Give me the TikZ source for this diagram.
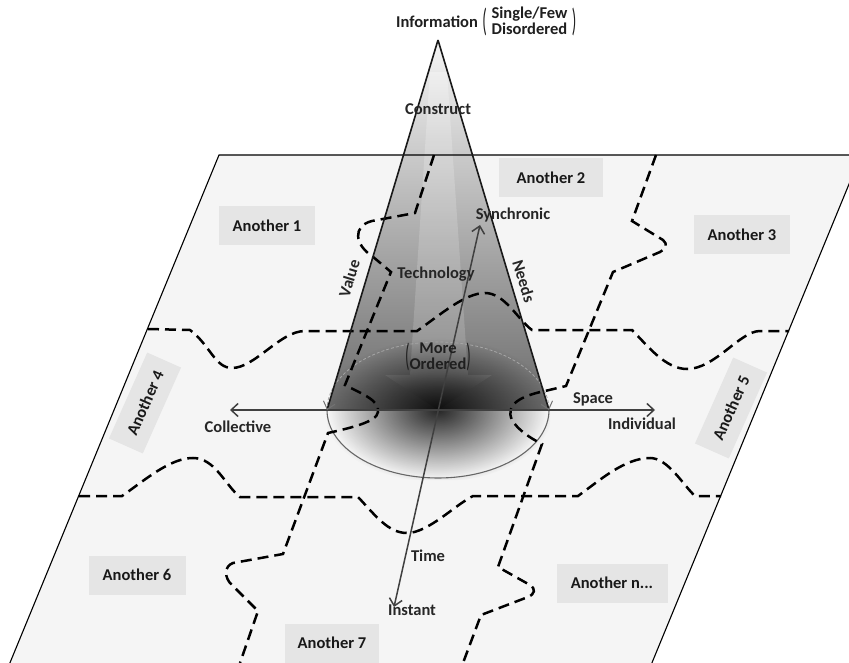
\documentclass[tikz,border=0pt]{standalone}
\usepackage{fontspec}
\setmainfont{Carlito}
\usepackage{graphicx}
\usetikzlibrary{arrows.meta,fadings}
\tikzfading[name=basefade, inner color=transparent!0, outer color=transparent!100]
\pgfdeclareverticalshading{arrowsh}{100bp}{color(0bp)=(black!80); color(25bp)=(black!80); color(28bp)=(black!55); color(30.5bp)=(gray!50); color(75bp)=(white); color(100bp)=(white)}
\newcommand\bparen[1]{\raisebox{-3.8pt}{\scalebox{0.9}[1.95]{\mdseries #1}}}
\tikzset{
  bx/.style={fill=gray!20, font=\bfseries\fontsize{16.5}{18}\selectfont, text=black!90, minimum height=39pt, inner sep=0pt},
  lbl/.style={font=\bfseries\fontsize{16.5}{16}\selectfont, text=black!85, inner sep=1pt, text height=11pt, text depth=3.5pt},
  plbl/.style={font=\bfseries\fontsize{16.5}{16}\selectfont, text=black!88, inner sep=0pt},
  region/.style={draw=black, line width=2.5pt, dash pattern=on 11pt off 6pt},
  axis/.style={draw=black!75, line width=1.5pt},
  barb/.tip={Straight Barb[length=7pt,width=13pt]},
}
\begin{document}
\begin{tikzpicture}[x=1pt,y=-1pt]
\useasboundingbox (0,0) rectangle (849,663);
% plane
\fill[gray!8] (219,155) -- (861,155) -- (649,670) -- (7,670) -- cycle;
% cone
\coordinate (apex) at (438,40);
\coordinate (bl) at (327,410);
\coordinate (br) at (549,410);
\coordinate (c) at (438,410);
\shade[top color=gray!8, bottom color=black!58] (apex) -- (bl) -- (br) -- cycle;
\begin{scope}
  \clip (apex) -- (bl) -- (br) -- cycle;
  \shade[shading=arrowsh, fill opacity=0.3] (430,72) -- (447,72) -- (468,375) -- (492,375) -- (c) -- (385,375) -- (410,375) -- cycle;
\end{scope}
\begin{scope}
  \clip (apex) -- (bl) -- (br) -- cycle (bl) rectangle (550,480);
  \fill[white] (bl) arc[start angle=180, end angle=360, x radius=111pt, y radius=68pt] -- cycle;
  \fill[black, path fading=basefade, fill opacity=0.85] (c) ellipse [x radius=115pt, y radius=72pt];
\end{scope}
\draw[gray!70, line width=0.8pt, dash pattern=on 3pt off 2pt] (bl) arc[start angle=180, end angle=0, x radius=111pt, y radius=68pt];
\draw[black!60, line width=1.1pt] (bl) arc[start angle=180, end angle=360, x radius=111pt, y radius=68pt];
% plane border
\draw[black, line width=1.1pt] (7,670) -- (219,155) -- (861,155) -- (649,670);
% region borders
\draw[region] (148,329) -- (190,330) .. controls (210,345) and (215,368) .. (232,368) .. controls (255,368) and (280,331) .. (305,331) -- (417,331) .. controls (440,315) and (465,293) .. (485,293) .. controls (505,293) and (518,320) .. (532,330) -- (632,330) .. controls (647,345) and (665,369) .. (687,369) .. controls (715,369) and (740,331) .. (760,331) -- (789,331);
\draw[region] (79,496) -- (122,496) .. controls (145,480) and (170,458) .. (193,458) .. controls (215,458) and (225,485) .. (240,497) -- (358,497) .. controls (375,515) and (388,533) .. (407,533) .. controls (428,533) and (455,505) .. (473,496) -- (578,496) .. controls (600,480) and (625,458) .. (650,458) .. controls (668,458) and (683,485) .. (695,496) -- (721,496);
\draw[region] (434,155) -- (415,213) -- (372,221) .. controls (352,226) and (355,245) .. (372,256) -- (391,272) -- (345,385) .. controls (360,393) and (380,400) .. (378,412) .. controls (377,422) and (350,428) .. (328,433) -- (283,554) -- (233,563) .. controls (224,566) and (224,578) .. (232,585) -- (258,611) -- (240,663);
\draw[region] (656,155) -- (632,221) -- (663,240) .. controls (668,244) and (666,249) .. (660,252) -- (613,272) -- (566,386) -- (545,391) .. controls (520,396) and (505,405) .. (512,420) .. controls (518,430) and (530,438) .. (542,444) -- (498,567) -- (530,585) .. controls (536,589) and (535,594) .. (528,597) -- (481,615) -- (463,663);
% axes
\coordinate (col) at (230,410);
\coordinate (ind) at (655,410);
\coordinate (syn) at (480,225);
\coordinate (ins) at (394,607);
\draw[axis, barb-barb] (col) -- (ind);
\draw[axis, barb-barb] (ins) -- (syn);
% cone edges
\draw[black!90, line width=1.6pt, -{Straight Barb[length=7pt,width=12pt,line width=1pt,color=black!55]}] (apex) -- (bl);
\draw[black!90, line width=1.6pt, -{Straight Barb[length=7pt,width=12pt,line width=1pt,color=black!55]}] (apex) -- (br);
% region labels
\node[bx, minimum width=96pt] (a1) at (267,226) {Another 1};
\node[bx, minimum width=104pt] (a2) at (551,178) {Another 2};
\node[bx, minimum width=96pt] (a3) at (742,235) {Another 3};
\node[bx, minimum width=94pt, minimum height=37pt, rotate=66] (a4) at (145,403) {Another 4};
\node[bx, minimum width=94pt, minimum height=37pt, rotate=66] (a5) at (731,408) {Another 5};
\node[bx, minimum width=97pt] (a6) at (137,575) {Another 6};
\node[bx, minimum width=94pt] (a7) at (332,643) {Another 7};
\node[bx, minimum width=111pt] (an) at (612,583) {Another n...};
% texts
\node[plbl, anchor=west] (info) at (396,23) {Information\;\bparen{(}\;\begin{tabular}{@{}c@{}}Single/Few\\Disordered\end{tabular}\;\bparen{)}};
\node[lbl] (construct) at (438,111) {Construct};
\node[lbl] (tech) at (436,275) {Technology};
\node[lbl] (sync) at (513,216) {Synchronic};
\node[lbl, rotate=73] (value) at (351,279) {Value};
\node[lbl, rotate=-73] (needs) at (522,282) {Needs};
\node[plbl] (more) at (438,358) {\bparen{(}\begin{tabular}{@{}c@{}}More\\Ordered\end{tabular}\bparen{)}};
\node[lbl] (collective) at (238,429) {Collective};
\node[lbl] (space) at (593,400) {Space};
\node[lbl] (individual) at (642,426) {Individual};
\node[lbl] (time) at (428,558) {Time};
\node[lbl] (instant) at (412,612) {Instant};
\end{tikzpicture}
\end{document}
